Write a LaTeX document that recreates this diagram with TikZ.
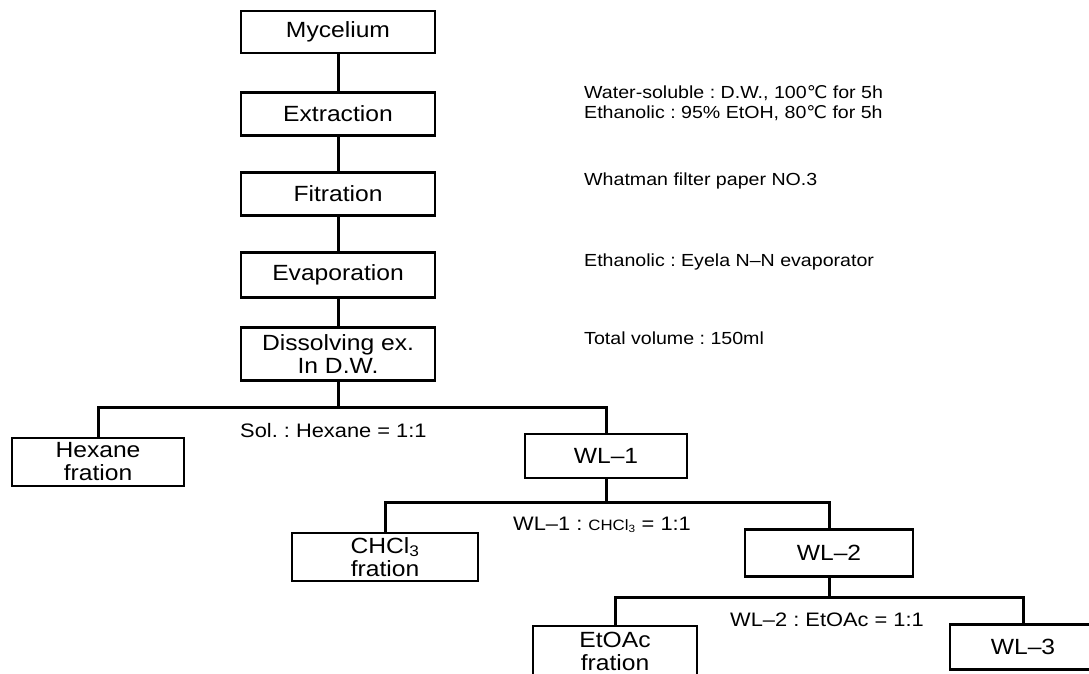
\documentclass[tikz,border=0pt]{standalone}
\usepackage{fontspec}
\setmainfont{Liberation Sans}
\newfontfamily\widefont[Ligatures=TeX,FakeStretch=1.12]{Liberation Sans}
\newfontfamily\symfont[FakeStretch=1.05]{DejaVu Sans}
\begin{document}
\begin{tikzpicture}[x=1pt,y=-1pt,
  box/.style={draw, line width=2.8pt, inner sep=0pt, align=center,
    font=\widefont\fontsize{22}{23}\selectfont},
  conn/.style={line width=3pt},
  lab/.style={anchor=west, inner sep=0pt, font=\widefont\fontsize{19.5}{21}\selectfont},
  note/.style={anchor=west, inner sep=0pt, align=left, font=\widefont\fontsize{17.5}{20}\selectfont}]
\clip (0,0) rectangle (1089,673);
\fill[white] (0,0) rectangle (1089,673);

% main column
\node[box, minimum width=194, minimum height=42] (myc) at (338,32) {Mycelium};
\node[box, minimum width=194, minimum height=43] (ext) at (338,114) {Extraction};
\node[box, minimum width=194, minimum height=43] (fil) at (338,194) {Fitration};
\node[box, minimum width=194, minimum height=45] (eva) at (338,275) {Evaporation};
\node[box, minimum width=194, minimum height=53] (dis) at (338,354) {Dissolving ex.\\In D.W.};

% branches
\node[box, minimum width=172, minimum height=48] (hex) at (98,462) {Hexane\\fration};
\node[box, minimum width=162, minimum height=44] (wl1) at (606,456) {WL–1};
\node[box, minimum width=186, minimum height=48] (chc) at (385,557) {CHCl\textsubscript{3}\\fration};
\node[box, minimum width=168, minimum height=47] (wl2) at (829,553) {WL–2};
\node[box, minimum width=164, minimum height=50] (eto) at (615,651) {EtOAc\\fration};
\node[box, minimum width=146, minimum height=45] (wl3) at (1023,647) {WL–3};

% connectors
\draw[conn] (myc) -- (ext);
\draw[conn] (ext) -- (fil);
\draw[conn] (fil) -- (eva);
\draw[conn] (eva) -- (dis);

\coordinate (j1) at (338,407);
\draw[conn] (dis.south) -- (j1);
\draw[conn] (hex.north) |- (j1) -| (wl1.north);

\coordinate (j2) at (606,502);
\draw[conn] (wl1.south) -- (j2);
\draw[conn] (chc.north) |- (j2) -| (wl2.north);

\coordinate (j3) at (829,597);
\draw[conn] (wl2.south) -- (j3);
\draw[conn] (eto.north) |- (j3) -| (wl3.north);

% ratio labels
\node[lab] (l1) at (240,431) {Sol.\ :\ Hexane = 1:1};
\node[lab] (l2) at (513,525) {WL–1\ :\ {\fontsize{15}{16}\selectfont CHCl\textsubscript{3}} = 1:1};
\node[lab] (l3) at (730,620) {WL–2\ :\ EtOAc = 1:1};

% notes
\node[note] (n1) at (584,103) {Water-soluble\ :\ D.W., 100{\symfont ℃} for 5h\\Ethanolic\ :\ 95\% EtOH, 80{\symfont ℃} for 5h};
\node[note] (n2) at (584,181) {Whatman filter paper NO.3};
\node[note] (n3) at (584,262) {Ethanolic\ :\ Eyela N–N evaporator};
\node[note] (n4) at (584,338) {Total volume\ :\ 150ml};
\end{tikzpicture}
\end{document}
